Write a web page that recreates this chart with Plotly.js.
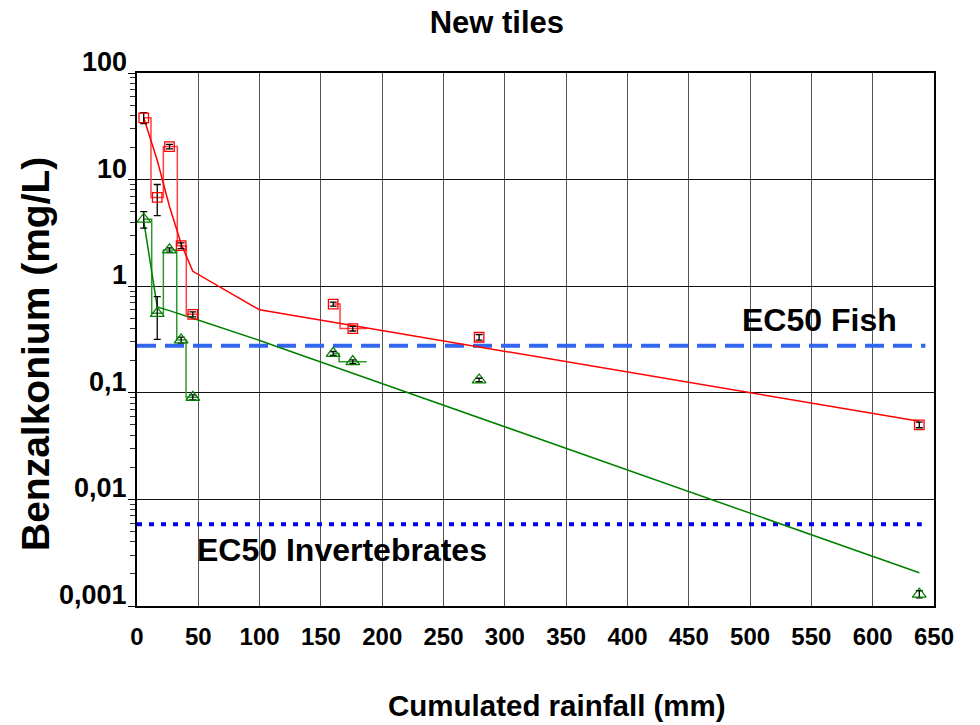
<!DOCTYPE html>
<html>
<head>
<meta charset="utf-8">
<script src="https://cdn.plot.ly/plotly-3.0.1.min.js"></script>
<style>html,body{margin:0;padding:0;background:#fff;}#chart{width:980px;height:725px;}</style>
</head>
<body>
<div id="chart"></div>
<script>
// Sample points (cumulated rainfall, mm)
const xRain = [5.5, 16.5, 26.5, 36, 45.5, 160, 176, 279, 638];
// Red series (squares) concentrations and errors (mg/L)
const redConc = [38, 6.8, 20.4, 2.4, 0.545, 0.68, 0.40, 0.332, 0.05];
const redErr = [4.5, 2.2, 1.0, 0.15, 0.03, 0.03, 0.02, 0.02, 0.003];
// Green series (triangles)
const greenConc = [4.25, 0.557, 2.19, 0.313, 0.0908, 0.234, 0.196, 0.132, 0.00129];
const greenErr = [0.75, 0.24, 0.1, 0.02, 0.005, 0.01, 0.008, 0.005, 0.0001];
// Step outlines (interval boundaries)
const redStep1X = [5.5, 11.4, 21.5, 32.9, 40.2, 50.8];
const redStep1Y = [38, 6.8, 20.4, 2.4, 0.545, 0.545];
const redStep2X = [160, 165.6, 187.4];
const redStep2Y = [0.68, 0.40, 0.40];
const greenStep1X = [5.5, 12.0, 21.5, 32.4, 40.0, 50];
const greenStep1Y = [4.25, 0.557, 2.19, 0.313, 0.0908, 0.0908];
const greenStep2X = [160, 164.8, 187.4];
const greenStep2Y = [0.234, 0.196, 0.196];
// Fitted decay curves
const redFitX = [5.5, 16.5, 26.5, 36, 45.5, 100, 638];
const redFitY = [38, 15.2, 5.6, 2.5, 1.38, 0.6, 0.054];
const greenFitX = [5.5, 16.5, 26.5, 36, 45.5, 100, 638];
const greenFitY = [4.1, 0.64, 0.59, 0.545, 0.5, 0.31, 0.00205];
// Thresholds
const ec50FishX = [0, 643];
const ec50Fish = [0.277, 0.277];
const ec50InvX = [0, 640];
const ec50Inv = [0.00585, 0.00585];
// Axis ticks
const yTickVals = [0.001, 0.01, 0.1, 1, 10, 100];
const yTickText = ['0,001', '0,01', '0,1', '1', '10', '100'];

const FONT = 'Liberation Sans, Arial, sans-serif';
const RED = '#ff0000', RED_STEP = '#ff4040';
const GREEN = '#008000', GREEN_STEP = '#2e9a2e';
const bold = (size) => ({family: FONT, size: size, weight: 'bold', color: '#000'});

const traces = [
  {x: ec50FishX, y: ec50Fish, mode: 'lines', line: {color: '#3366ee', width: 4, dash: '19px,9px'}},
  {x: ec50InvX, y: ec50Inv, mode: 'lines', line: {color: '#0000ee', width: 4, dash: '5px,7px'}},
  {x: redStep1X, y: redStep1Y, mode: 'lines', line: {color: RED_STEP, width: 1.5, shape: 'hv'}},
  {x: redStep2X, y: redStep2Y, mode: 'lines', line: {color: RED_STEP, width: 1.5, shape: 'hv'}},
  {x: greenStep1X, y: greenStep1Y, mode: 'lines', line: {color: GREEN_STEP, width: 1.5, shape: 'hv'}},
  {x: greenStep2X, y: greenStep2Y, mode: 'lines', line: {color: GREEN_STEP, width: 1.5, shape: 'hv'}},
  {x: redFitX, y: redFitY, mode: 'lines', line: {color: RED, width: 1.5}},
  {x: greenFitX, y: greenFitY, mode: 'lines', line: {color: GREEN, width: 1.5}},
  {x: xRain, y: redConc, mode: 'markers',
   marker: {symbol: 'square-open', size: 9.5, color: RED, line: {width: 1.3, color: RED}},
   error_y: {type: 'data', array: redErr, color: '#000', thickness: 1.3, width: 3.5}},
  {x: xRain, y: greenConc, mode: 'markers',
   marker: {symbol: 'triangle-up-open', size: 12, color: GREEN, line: {width: 1.3, color: GREEN}},
   error_y: {type: 'data', array: greenErr, color: '#000', thickness: 1.3, width: 3.5}}
];

// y tick labels drawn slightly above their grid lines, as in the original
const yLabelAnnots = yTickVals.map((v, i) => ({
  text: yTickText[i], xref: 'paper', yref: 'y', x: 0, y: Math.log10(v),
  xanchor: 'right', yanchor: 'middle', xshift: -8, yshift: 11,
  showarrow: false, font: bold(27)
}));

const layout = {
  width: 980, height: 725,
  margin: {l: 137, r: 46, t: 73, b: 119},
  paper_bgcolor: '#fff', plot_bgcolor: '#fff',
  showlegend: false,
  font: {family: FONT, color: '#000'},
  title: {text: 'New tiles', font: bold(31),
          x: 0.507, xanchor: 'center', y: 0.969, yanchor: 'middle', yref: 'container'},
  xaxis: {
    type: 'linear', range: [0, 650], dtick: 50, tick0: 0,
    showgrid: true, gridcolor: '#555', gridwidth: 1,
    zeroline: false, showline: true, linecolor: '#000', linewidth: 2, mirror: true,
    ticks: '', ticklabelstandoff: 8,
    tickfont: bold(24)
  },
  yaxis: {
    type: 'log', range: [-3, 2],
    tickmode: 'array', tickvals: yTickVals, showticklabels: false,
    showgrid: true, gridcolor: '#111', gridwidth: 1,
    zeroline: false, showline: true, linecolor: '#000', linewidth: 2, mirror: true,
    ticks: 'outside', ticklen: 7, tickwidth: 1, tickcolor: '#000',
    minor: {ticks: 'outside', ticklen: 5, tickwidth: 1, tickcolor: '#333', dtick: 'D1', showgrid: false}
  },
  annotations: yLabelAnnots.concat([
    {text: 'Cumulated rainfall (mm)', xref: 'paper', yref: 'paper', x: 0.527, y: -0.1876,
     xanchor: 'center', yanchor: 'middle', showarrow: false, font: bold(29.5)},
    {text: 'Benzalkonium (mg/L)', xref: 'paper', yref: 'paper', x: -0.1267, y: 0.4728, textangle: -90,
     xanchor: 'center', yanchor: 'middle', showarrow: false, font: bold(39)},
    {text: 'EC50 Fish', xref: 'x', yref: 'y', x: 492, y: -0.32, xanchor: 'left', yanchor: 'middle',
     showarrow: false, font: bold(32)},
    {text: 'EC50 Invertebrates', xref: 'x', yref: 'y', x: 47, y: -2.47, xanchor: 'left', yanchor: 'middle',
     showarrow: false, font: bold(32)}
  ])
};

Plotly.newPlot('chart', traces, layout, {staticPlot: true, displayModeBar: false});
</script>
</body>
</html>
